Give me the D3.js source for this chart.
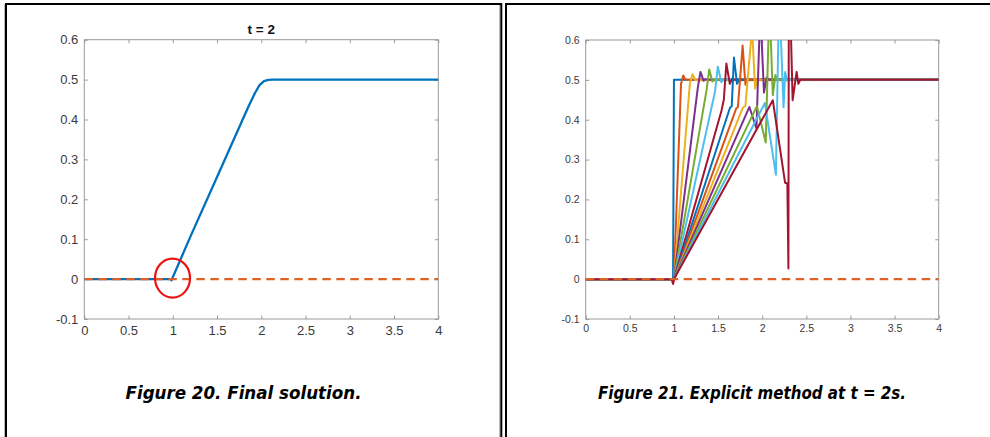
<!DOCTYPE html>
<html><head><meta charset="utf-8">
<script src="https://cdn.jsdelivr.net/npm/d3@7"></script>
<style>body{margin:0;background:#fff;overflow:hidden} svg{display:block}</style>
</head><body><svg id="c" width="990" height="437"></svg>
<script>
// ---------- data ----------
const xTicks = [0, 0.5, 1, 1.5, 2, 2.5, 3, 3.5, 4];
const yTicks = [-0.1, 0, 0.1, 0.2, 0.3, 0.4, 0.5, 0.6];
const xDomain = [0, 4];
const yDomain = [-0.1, 0.6];
const leftTitle = "t = 2";
const captions = ["Figure 20. Final solution.", "Figure 21. Explicit method at t = 2s."];
const matlabColors = ["#0072BD", "#D95319", "#EDB120", "#7E2F8E", "#77AC30", "#4DBEEE", "#A2142F"];

// Figure 20: final solution
const finalSolution = [[0,0],[0.98,0],[0.985,-0.003],[1.2,0.107],[1.5,0.256],[1.85,0.43],[1.93,0.467],[1.98,0.486],[2.03,0.496],[2.08,0.4995],[2.13,0.5],[4,0.5]];
const initialLine = [[0,0],[4,0]];
const markPoint = [0.98, 0];

// Figure 21: explicit method snapshots
const s01 = [[0,0],[0.99,0],[1.0,0.5],[4,0.5]];
const s02 = [[0,0],[1,0],[1.08,0.49],[1.105,0.511],[1.125,0.502],[1.14,0.5],[4,0.5]];
const s03 = [[0,0],[1,0],[1.18,0.49],[1.21,0.514],[1.24,0.5],[1.26,0.499],[4,0.5]];
const s04 = [[0,0],[1,0],[1.27,0.48],[1.30,0.52],[1.335,0.498],[1.36,0.502],[1.38,0.5],[4,0.5]];
const s05 = [[0,0],[1,0],[1.37,0.475],[1.40,0.526],[1.435,0.496],[1.46,0.501],[1.48,0.5],[4,0.5]];
const s06 = [[0,0],[1,0],[1.465,0.47],[1.497,0.533],[1.537,0.494],[1.565,0.502],[1.59,0.5],[4,0.5]];
const s07 = [[0,0],[1,0],[1.54,0.424],[1.565,0.45],[1.594,0.541],[1.633,0.49],[1.66,0.503],[1.68,0.5],[4,0.5]];
const s08 = [[0,0],[1,0],[1.635,0.43],[1.655,0.434],[1.68,0.556],[1.715,0.49],[1.745,0.503],[1.77,0.5],[4,0.5]];
const s09 = [[0,0],[1,0],[1.705,0.428],[1.725,0.432],[1.778,0.586],[1.81,0.488],[1.835,0.503],[1.86,0.5],[4,0.5]];
const s10 = [[0,0],[1,0],[1.78,0.43],[1.81,0.435],[1.885,0.63],[1.92,0.478],[1.95,0.504],[1.97,0.5],[4,0.5]];
const s11 = [[0,0],[1,0],[1.855,0.432],[1.935,0.378],[1.978,0.68],[2.02,0.468],[2.05,0.506],[2.075,0.5],[4,0.5]];
const s12 = [[0,0],[1,0],[1.94,0.434],[2.04,0.343],[2.082,0.7],[2.12,0.462],[2.15,0.512],[2.175,0.499],[2.2,0.5],[4,0.5]];
const s13 = [[0,0],[1,0],[2.03,0.442],[2.155,0.262],[2.192,0.72],[2.242,0.431],[2.26,0.52],[2.28,0.498],[2.3,0.5],[4,0.5]];
const s14 = [[0,0],[0.975,0],[0.99,-0.012],[1.005,0.002],[2.12,0.449],[2.259,0.242],[2.285,0.24],[2.297,0.027],[2.302,0.75],[2.31,0.75],[2.345,0.449],[2.39,0.52],[2.41,0.49],[2.43,0.5],[4,0.5]];
const explicitSeries = [s01,s02,s03,s04,s05,s06,s07,s08,s09,s10,s11,s12,s13,s14];

// ---------- drawing ----------
const svg = d3.select("#c");

// page frames
const frame = svg.append("g");
frame.append("line").attr("x1",4.5).attr("x2",4.5).attr("y1",4).attr("y2",437).attr("stroke","#bbb").attr("stroke-width",1);
frame.append("line").attr("x1",499.5).attr("x2",499.5).attr("y1",4).attr("y2",437).attr("stroke","#bbb").attr("stroke-width",1);
frame.append("path").attr("d","M6,437V4H501.3V437").attr("fill","none").attr("stroke","#000").attr("stroke-width",2);
frame.append("path").attr("d","M506,437V4H990").attr("fill","none").attr("stroke","#000").attr("stroke-width",2);

function panel(opts) {
  const x = d3.scaleLinear().domain(xDomain).range([opts.x0, opts.x1]);
  const y = d3.scaleLinear().domain(yDomain).range([opts.y1, opts.y0]);
  const g = svg.append("g");
  const clipId = "clip" + opts.id;
  svg.append("clipPath").attr("id", clipId).append("rect")
    .attr("x", opts.x0).attr("y", opts.y0).attr("width", opts.x1 - opts.x0).attr("height", opts.y1 - opts.y0);

  const fmt = d => String(+d.toFixed(1));
  const tk = 3.5;
  const axStyle = sel => {
    sel.select(".domain").remove();
    sel.selectAll(".tick line").attr("stroke", "#9a9a9a").attr("stroke-width", 1);
    sel.selectAll(".tick text").attr("fill", "#3a3a3a").style("font-family", "'Liberation Sans', Arial, sans-serif").style("font-size", opts.fs + "px");
  };
  g.append("g").attr("transform", `translate(0,${opts.y1})`)
    .call(d3.axisBottom(x).tickValues(xTicks).tickFormat(fmt).tickSize(-tk).tickPadding(opts.xpad))
    .call(axStyle);
  g.append("g").attr("transform", `translate(0,${opts.y0})`)
    .call(d3.axisTop(x).tickValues(xTicks).tickFormat("").tickSize(-tk))
    .call(axStyle);
  g.append("g").attr("transform", `translate(${opts.x0},0)`)
    .call(d3.axisLeft(y).tickValues(yTicks).tickFormat(fmt).tickSize(-tk).tickPadding(opts.ypad))
    .call(axStyle);
  g.append("g").attr("transform", `translate(${opts.x1},0)`)
    .call(d3.axisRight(y).tickValues(yTicks).tickFormat("").tickSize(-tk))
    .call(axStyle);
  g.append("rect").attr("x", opts.x0).attr("y", opts.y0).attr("width", opts.x1 - opts.x0).attr("height", opts.y1 - opts.y0)
    .attr("fill", "none").attr("stroke", "#9a9a9a").attr("stroke-width", 1);

  const line = d3.line().x(d => x(d[0])).y(d => y(d[1]));
  const lines = g.append("g").attr("clip-path", `url(#${clipId})`);
  return {x, y, g, lines, line};
}

// ---- left panel ----
const L = panel({id: "L", x0: 84.3, x1: 438.3, y0: 39.7, y1: 319, fs: 13, xpad: 7, ypad: 6});
L.lines.append("path").datum(finalSolution).attr("d", L.line).attr("fill", "none")
  .attr("stroke", matlabColors[0]).attr("stroke-width", 2.3).attr("stroke-linejoin", "round");
L.lines.append("path").datum(initialLine).attr("d", L.line).attr("fill", "none")
  .attr("stroke", "#DE6228").attr("stroke-width", 2.3).attr("stroke-dasharray", "8.5,5.5");
L.g.append("text").attr("x", (L.x.range()[0] + L.x.range()[1]) / 2).attr("y", 34)
  .attr("text-anchor", "middle").style("font-family", "'Liberation Sans', Arial, sans-serif")
  .style("font-size", "13.5px").style("font-weight", "bold").attr("fill", "#111").text(leftTitle);
L.g.append("ellipse").attr("cx", L.x(markPoint[0]) + 1.5).attr("cy", L.y(markPoint[1]) - 1)
  .attr("rx", 17.5).attr("ry", 19.5).attr("fill", "none").attr("stroke", "#EE1111").attr("stroke-width", 2.2);

// ---- right panel ----
const R = panel({id: "R", x0: 585.7, x1: 938.7, y0: 40, y1: 319, fs: 10.5, xpad: 6, ypad: 6});
explicitSeries.forEach((s, i) => {
  R.lines.append("path").datum(s).attr("d", R.line).attr("fill", "none")
    .attr("stroke", matlabColors[i % matlabColors.length]).attr("stroke-width", 2).attr("stroke-linejoin", "round");
});
R.lines.append("path").datum(initialLine).attr("d", R.line).attr("fill", "none")
  .attr("stroke", "#DE6228").attr("stroke-width", 2.2).attr("stroke-dasharray", "8.5,5.5");

// ---- captions ----
const capFont = "'Liberation Sans Narrow', 'DejaVu Sans Condensed', 'Roboto', sans-serif";
[[243.5, 236, captions[0]], [752, 308, captions[1]]].forEach(([cx, w, t]) => {
  svg.append("text").attr("x", cx).attr("y", 399).attr("text-anchor", "middle")
    .attr("textLength", w).attr("lengthAdjust", "spacingAndGlyphs")
    .style("font-family", capFont).style("font-size", "17px").style("font-weight", "bold").style("font-style", "italic")
    .attr("fill", "#000").text(t);
});
</script></body></html>
